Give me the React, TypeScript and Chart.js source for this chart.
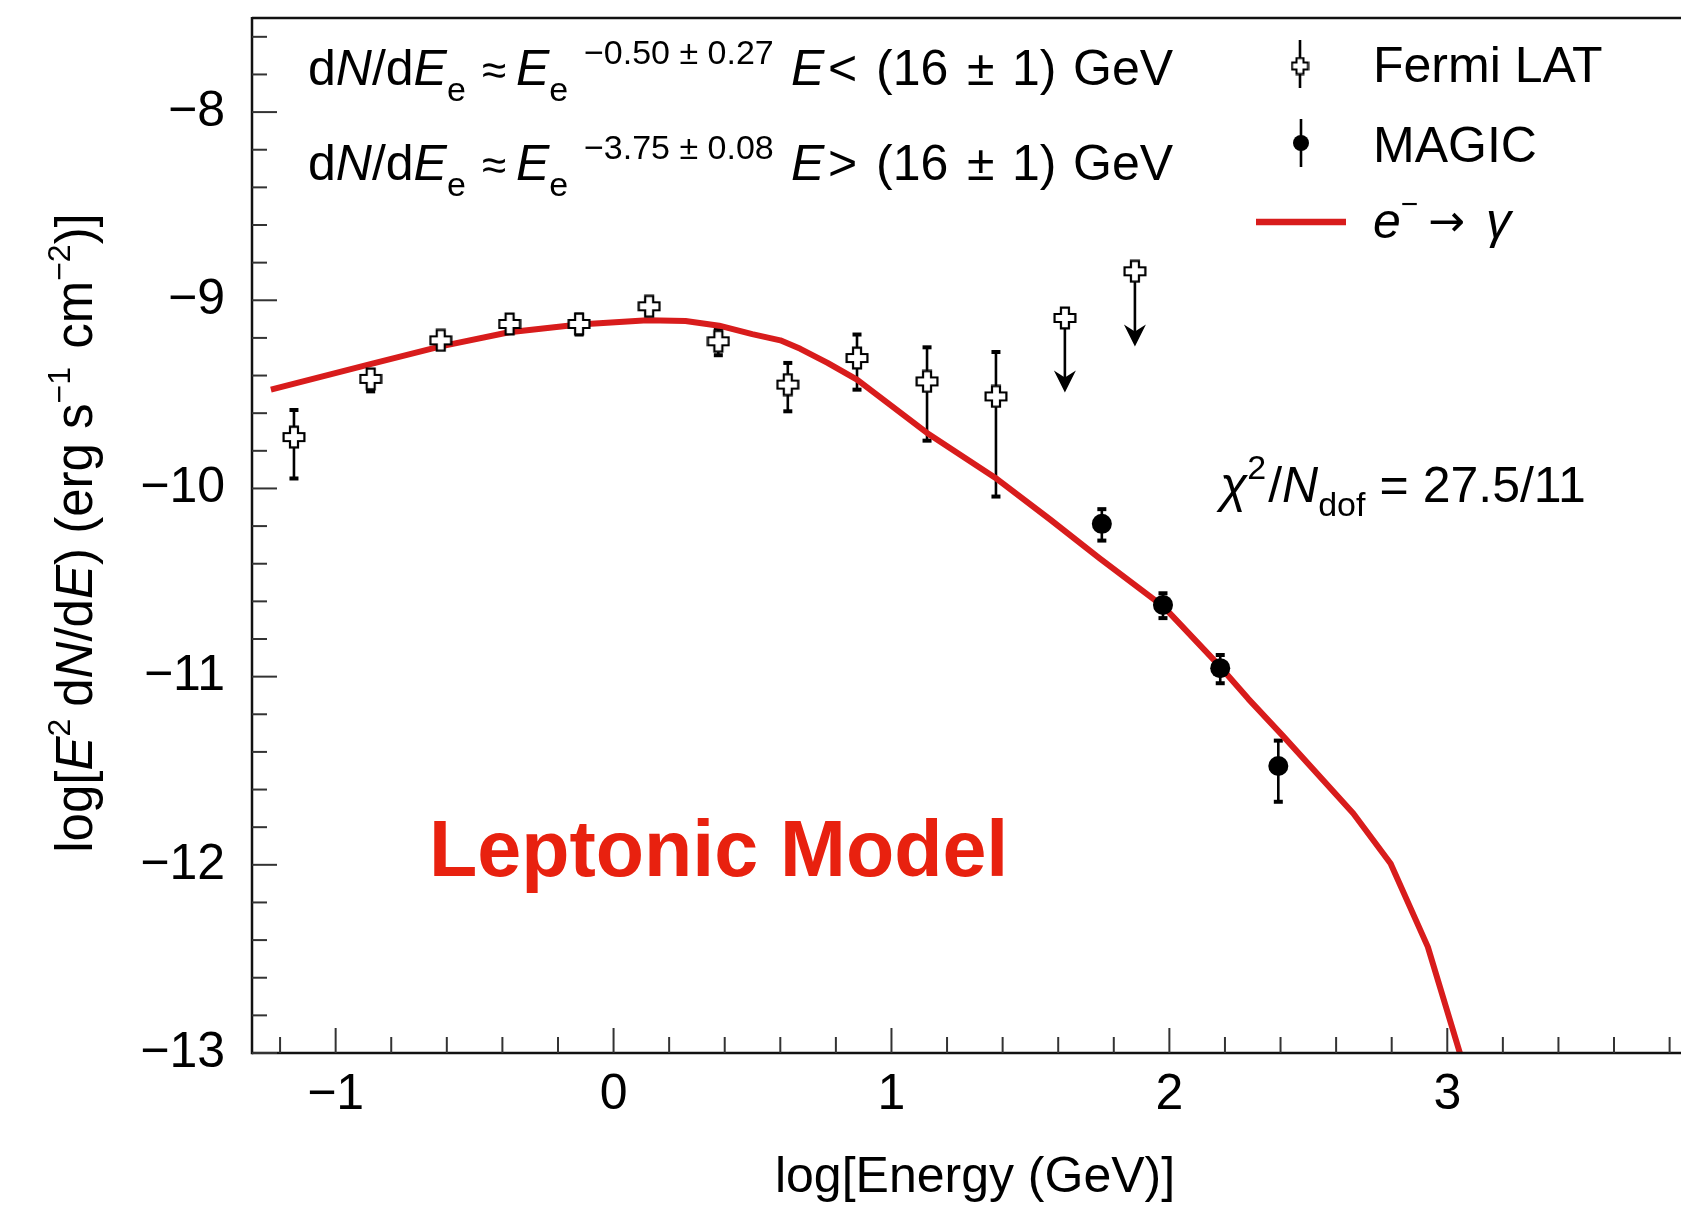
import React, { useEffect, useRef } from 'react';
import { Chart, registerables } from 'chart.js';

Chart.register(...registerables);

const FONT = '"Liberation Sans", Arial, Helvetica, sans-serif';
const RED = '#d81c1c';
const TEXT_RED = '#e8210f';

// ---- axes ----
const xRange = [-1.301, 3.841];
const yRange = [-13, -7.5];
const xTickValues = [-1, 0, 1, 2, 3];
const yTickValues = [-13, -12, -11, -10, -9, -8];

// ---- Fermi LAT (open crosses) ----
const fermiX = [-1.150, -0.874, -0.622, -0.374, -0.124, 0.128, 0.377, 0.627, 0.876, 1.128, 1.376];
const fermiY = [-9.727, -9.418, -9.213, -9.126, -9.126, -9.032, -9.218, -9.448, -9.307, -9.431, -9.511];
const fermiLow = [-9.947, -9.484, -9.245, -9.160, -9.182, -9.070, -9.292, -9.590, -9.475, -9.746, -10.043];
const fermiHigh = [-9.583, -9.372, -9.185, -9.095, -9.076, -8.998, -9.150, -9.333, -9.182, -9.250, -9.275];

// ---- Fermi LAT upper limits ----
const ulX = [1.624, 1.876];
const ulY = [-9.094, -8.846];
const ulArrowTo = [-9.490, -9.245];

// ---- MAGIC (filled circles) ----
const magicX = [1.757, 1.977, 2.183, 2.392];
const magicY = [-10.188, -10.619, -10.955, -11.475];
const magicLow = [-10.277, -10.689, -11.035, -11.665];
const magicHigh = [-10.110, -10.557, -10.885, -11.340];

// ---- model e- -> gamma ----
const modelX = [-1.233, -0.868, -0.622, -0.376, -0.124, 0.122, 0.259, 0.380, 0.499, 0.600, 0.672, 0.770, 0.876, 1.128, 1.380, 1.571, 1.748, 1.979, 2.183, 2.284, 2.411, 2.662, 2.796, 2.930, 3.046, 3.075];
const modelY = [-9.475, -9.337, -9.245, -9.170, -9.129, -9.106, -9.110, -9.135, -9.180, -9.213, -9.258, -9.333, -9.422, -9.705, -9.950, -10.165, -10.370, -10.628, -10.947, -11.118, -11.319, -11.727, -11.993, -12.436, -13.003, -13.180];

type Seg = { t?: string; it?: boolean; size?: number; dy?: number; gap?: number; at?: number; noAdv?: boolean; bold?: boolean; fam?: string };

function setFont(ctx: CanvasRenderingContext2D, s: Seg, base: number) {
  ctx.font = `${s.it ? 'italic ' : ''}${s.bold ? 'bold ' : ''}${s.size ?? base}px ${s.fam ?? FONT}`;
}

function richWidth(ctx: CanvasRenderingContext2D, segs: Seg[], base: number) {
  let x = 0;
  for (const s of segs) {
    if (s.gap) x += s.gap;
    if (!s.t) continue;
    setFont(ctx, s, base);
    if (!s.noAdv) x += ctx.measureText(s.t).width;
  }
  return x;
}

function drawRich(ctx: CanvasRenderingContext2D, x0: number, y0: number, segs: Seg[], base: number) {
  let x = x0;
  ctx.textAlign = 'left';
  ctx.textBaseline = 'alphabetic';
  for (const s of segs) {
    if (s.at !== undefined) x = s.at;
    if (s.gap) x += s.gap;
    if (!s.t) continue;
    setFont(ctx, s, base);
    ctx.fillText(s.t, x, y0 + (s.dy ?? 0));
    if (!s.noAdv) x += ctx.measureText(s.t).width;
  }
  return x;
}

function makeCross(size: number, arm: number, lw: number) {
  const c = document.createElement('canvas');
  c.width = size;
  c.height = size;
  const g = c.getContext('2d')!;
  const h = size / 2;
  const a = arm / 2;
  const L = size / 2 - lw / 2 - 0.5;
  g.beginPath();
  g.moveTo(h - a, h - L);
  g.lineTo(h + a, h - L);
  g.lineTo(h + a, h - a);
  g.lineTo(h + L, h - a);
  g.lineTo(h + L, h + a);
  g.lineTo(h + a, h + a);
  g.lineTo(h + a, h + L);
  g.lineTo(h - a, h + L);
  g.lineTo(h - a, h + a);
  g.lineTo(h - L, h + a);
  g.lineTo(h - L, h - a);
  g.lineTo(h - a, h - a);
  g.closePath();
  g.fillStyle = '#fff';
  g.fill();
  g.lineWidth = lw;
  g.strokeStyle = '#000';
  g.stroke();
  return c;
}

const fmt = (v: number) => (v < 0 ? '\u2212' + Math.abs(v) : String(v));

function line(ctx: CanvasRenderingContext2D, x1: number, y1: number, x2: number, y2: number) {
  ctx.beginPath();
  ctx.moveTo(x1, y1);
  ctx.lineTo(x2, y2);
  ctx.stroke();
}

function errorBar(ctx: CanvasRenderingContext2D, px: number, pHi: number, pLo: number) {
  ctx.lineWidth = 2.6;
  line(ctx, px, pHi, px, pLo);
  ctx.lineWidth = 4;
  line(ctx, px - 4.5, pHi, px + 4.5, pHi);
  line(ctx, px - 4.5, pLo, px + 4.5, pLo);
}

function arrowHead(ctx: CanvasRenderingContext2D, px: number, tip: number) {
  ctx.beginPath();
  ctx.moveTo(px, tip);
  ctx.lineTo(px - 11, tip - 22);
  ctx.lineTo(px, tip - 15);
  ctx.lineTo(px + 11, tip - 22);
  ctx.closePath();
  ctx.fill();
}

export default function App() {
  const ref = useRef<HTMLCanvasElement>(null);

  useEffect(() => {
    const canvas = ref.current!;
    document.body.style.overflow = 'hidden';
    const cross = makeCross(24, 8, 2.2);
    const smallCross = makeCross(19, 7, 2);

    const decor = {
      id: 'decor',
      beforeDatasetsDraw(chart: any) {
        const { ctx, scales } = chart;
        const x = scales.x;
        const y = scales.y;
        ctx.save();
        ctx.strokeStyle = '#000';
        ctx.fillStyle = '#000';
        ctx.lineCap = 'butt';
        fermiX.forEach((xv, i) => {
          errorBar(ctx, x.getPixelForValue(xv), y.getPixelForValue(fermiHigh[i]), y.getPixelForValue(fermiLow[i]));
        });
        magicX.forEach((xv, i) => {
          errorBar(ctx, x.getPixelForValue(xv), y.getPixelForValue(magicHigh[i]), y.getPixelForValue(magicLow[i]));
        });
        ulX.forEach((xv, i) => {
          const px = x.getPixelForValue(xv);
          const p1 = y.getPixelForValue(ulY[i]);
          const p2 = y.getPixelForValue(ulArrowTo[i]);
          ctx.lineWidth = 2.6;
          line(ctx, px, p1, px, p2 - 12);
          arrowHead(ctx, px, p2);
        });
        ctx.restore();
      },
      afterDraw(chart: any) {
        const { ctx, chartArea, scales } = chart;
        const x = scales.x;
        const y = scales.y;
        const { left, right, top, bottom } = chartArea;
        ctx.save();
        // frame
        ctx.strokeStyle = '#111';
        ctx.lineWidth = 2.5;
        line(ctx, left, top, right, top);
        line(ctx, left, top - 1, left, bottom + 1.25);
        line(ctx, left, bottom, right, bottom);
        // inward ticks
        ctx.strokeStyle = '#333';
        ctx.lineWidth = 2;
        for (let k = Math.ceil(x.min * 5); k <= Math.floor(x.max * 5); k++) {
          const px = x.getPixelForValue(k / 5);
          const len = k % 5 === 0 ? 25 : 16;
          line(ctx, px, bottom, px, bottom - len);
        }
        for (let k = Math.ceil(y.min * 5); k <= Math.floor(y.max * 5); k++) {
          const py = y.getPixelForValue(k / 5);
          const len = k % 5 === 0 ? 25 : 15;
          line(ctx, left, py, left + len, py);
        }

        ctx.fillStyle = '#000';
        // x title
        ctx.font = `50px ${FONT}`;
        ctx.textAlign = 'center';
        ctx.textBaseline = 'alphabetic';
        ctx.fillText('log[Energy (GeV)]', 975, 1192);

        // y title
        const ySegs: Seg[] = [
          { t: 'log[' }, { t: 'E', it: true }, { t: '2', size: 32, dy: -22 },
          { gap: 12, t: 'd' }, { t: 'N', it: true }, { t: '/d' }, { t: 'E', it: true },
          { t: ') (erg s' }, { t: '\u22121', size: 32, dy: -22 }, { gap: 4, t: ' cm' },
          { t: '\u22122', size: 32, dy: -22 }, { t: ')]' },
        ];
        ctx.save();
        ctx.translate(92, 533);
        ctx.rotate(-Math.PI / 2);
        const yw = richWidth(ctx, ySegs, 51);
        drawRich(ctx, -yw / 2, 0, ySegs, 51);
        ctx.restore();

        // spectral index annotations
        const ann = (exp: string, rel: string): Seg[] => [
          { t: 'd' }, { t: 'N', it: true }, { t: '/d' }, { t: 'E', it: true }, { t: 'e', size: 34, dy: 16 },
          { at: 482, t: '\u2248', size: 44 }, { at: 516, t: 'E', it: true },
          { t: 'e', size: 34, dy: 16, noAdv: true }, { at: 584, t: exp, size: 34, dy: -21 },
          { at: 791, t: 'E', it: true }, { at: 828, t: rel }, { at: 876, t: '(16' },
          { at: 967, t: '\u00b1' }, { at: 1012, t: '1)' }, { at: 1073, t: 'GeV' },
        ];
        drawRich(ctx, 308, 85, ann('\u22120.50 \u00b1 0.27', '<'), 50);
        drawRich(ctx, 308, 180, ann('\u22123.75 \u00b1 0.08', '>'), 50);

        // chi2
        drawRich(ctx, 1220, 502, [
          { t: '\u03c7', it: true }, { t: '2', size: 34, dy: -23 }, { gap: 2, t: '/' }, { t: 'N', it: true },
          { t: 'dof', size: 34, dy: 14 }, { gap: 14, t: '=' }, { gap: 14, t: '27.5/11' },
        ], 50);

        // Leptonic Model
        ctx.fillStyle = TEXT_RED;
        ctx.font = `bold 79px ${FONT}`;
        ctx.textAlign = 'left';
        ctx.fillText('Leptonic Model', 429, 876);

        // legend
        ctx.fillStyle = '#000';
        ctx.strokeStyle = '#000';
        ctx.lineWidth = 2.6;
        line(ctx, 1300, 40, 1300, 88);
        ctx.drawImage(smallCross, 1300 - smallCross.width / 2, 66 - smallCross.height / 2);
        line(ctx, 1301, 119, 1301, 167);
        ctx.beginPath();
        ctx.arc(1301, 143, 8, 0, Math.PI * 2);
        ctx.fill();
        ctx.strokeStyle = RED;
        ctx.lineWidth = 6.5;
        line(ctx, 1256, 222, 1346, 222);

        ctx.fillStyle = '#000';
        ctx.font = `50px ${FONT}`;
        ctx.textAlign = 'left';
        ctx.fillText('Fermi LAT', 1373, 82);
        ctx.fillText('MAGIC', 1373, 162);
        drawRich(ctx, 1373, 238, [
          { t: 'e', it: true }, { t: '\u2212', size: 30, dy: -24 },
          { at: 1428, t: '\u2192', size: 44, dy: -2, fam: '"DejaVu Sans", sans-serif' },
          { at: 1486, t: '\u03b3', it: true },
        ], 50);
        ctx.restore();
      },
    };

    const chart = new Chart(canvas, {
      type: 'scatter',
      data: {
        datasets: [
          {
            type: 'line',
            label: 'e\u207b \u2192 \u03b3',
            data: modelX.map((xv, i) => ({ x: xv, y: modelY[i] })),
            borderColor: RED,
            borderWidth: 6,
            borderJoinStyle: 'round',
            pointRadius: 0,
            tension: 0,
            fill: false,
            order: 2,
            clip: 0,
          } as any,
          {
            label: 'Fermi LAT',
            data: fermiX.map((xv, i) => ({ x: xv, y: fermiY[i] })),
            pointStyle: cross as any,
            pointRadius: 11,
            order: 0,
          },
          {
            label: 'Fermi LAT UL',
            data: ulX.map((xv, i) => ({ x: xv, y: ulY[i] })),
            pointStyle: cross as any,
            pointRadius: 11,
            order: 0,
          },
          {
            label: 'MAGIC',
            data: magicX.map((xv, i) => ({ x: xv, y: magicY[i] })),
            pointStyle: 'circle',
            pointRadius: 10,
            backgroundColor: '#000',
            borderColor: '#000',
            borderWidth: 0,
            order: 0,
          },
        ],
      },
      options: {
        responsive: false,
        animation: false,
        devicePixelRatio: 1,
        events: [],
        layout: { autoPadding: false, padding: { top: 18, left: 0, right: 0, bottom: 0 } },
        plugins: {
          legend: { display: false },
          tooltip: { enabled: false },
          title: { display: false },
        },
        scales: {
          x: {
            type: 'linear',
            min: xRange[0],
            max: xRange[1],
            bounds: 'data',
            afterBuildTicks: (s: any) => { s.ticks = xTickValues.map((v) => ({ value: v })); },
            afterFit: (s: any) => {
              s.height = 152;
              s.paddingLeft = 0; s.paddingRight = 0; s.paddingTop = 0; s.paddingBottom = 0;
            },
            grid: { display: false, drawTicks: false },
            border: { display: false },
            ticks: {
              autoSkip: false,
              maxRotation: 0,
              minRotation: 0,
              padding: 12,
              color: '#000',
              font: { family: FONT, size: 50 },
              callback: (v: any) => fmt(Number(v)),
            },
          },
          y: {
            type: 'linear',
            min: yRange[0],
            max: yRange[1],
            bounds: 'data',
            afterBuildTicks: (s: any) => { s.ticks = yTickValues.map((v) => ({ value: v })); },
            afterFit: (s: any) => {
              s.width = 252;
              s.paddingLeft = 0; s.paddingRight = 0; s.paddingTop = 0; s.paddingBottom = 0;
            },
            grid: { display: false, drawTicks: false },
            border: { display: false },
            ticks: {
              autoSkip: false,
              padding: 27,
              color: '#000',
              font: { family: FONT, size: 50 },
              callback: (v: any) => fmt(Number(v)),
            },
          },
        },
      } as any,
      plugins: [decor],
    });
    return () => chart.destroy();
  }, []);

  return (
    <div style={{ position: 'absolute', left: 0, top: 0, width: 1681, height: 1205, background: '#fff' }}>
      <canvas ref={ref} width={1681} height={1205} style={{ display: 'block', width: 1681, height: 1205 }} />
    </div>
  );
}
